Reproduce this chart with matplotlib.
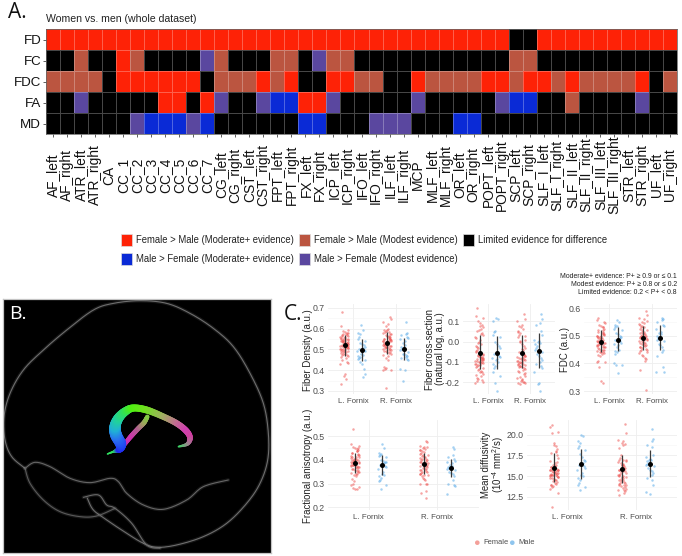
import numpy as np
import matplotlib
matplotlib.use("Agg")
import matplotlib.pyplot as plt
from matplotlib.colors import ListedColormap, to_rgb
from matplotlib.collections import LineCollection
from matplotlib.patches import Rectangle

plt.rcParams['font.family'] = ['Liberation Sans', 'DejaVu Sans']
plt.rcParams['mathtext.default'] = 'regular'

W, H = 682, 556

# ---------- Panel A data ----------
tracts = ["AF_left","AF_right","ATR_left","ATR_right","CA","CC_1","CC_2","CC_3","CC_4","CC_5","CC_6","CC_7",
          "CG_left","CG_right","CST_left","CST_right","FPT_left","FPT_right","FX_left","FX_right","ICP_left","ICP_right",
          "IFO_left","IFO_right","ILF_left","ILF_right","MCP","MLF_left","MLF_right","OR_left","OR_right",
          "POPT_left","POPT_right","SCP_left","SCP_right","SLF_I_left","SLF_I_right","SLF_II_left","SLF_II_right",
          "SLF_III_left","SLF_III_right","STR_left","STR_right","UF_left","UF_right"]
metrics = ["FD", "FC", "FDC", "FA", "MD"]
# R female moderate, r female modest, K limited, B male moderate, b male modest
fd_row  = "RRRRRRRRRRRRRRRRRRRRRRRRRRRRRRRRRKKRRRRRRRRRR"
fc_row  = "KKrKKRrKKKKbrKKKrrKbrrKKKKKKKKKKKrrKKKKKKKKKK"
fdc_row = "rrrrKRRRRRRKrrrRrRKKRRrrKKRrrrrRRrRRrRrrrrRKr"
fa_row  = "KKbKKKKKRRKRbKKbBBRRbKKKKKbKKKKKbBBKKrKKKKbKK"
md_row  = "KKKKKKbBBBbBKKKKKKBBKKKbbbKKKBBKKKKKKKKKKKKKK"
evidence_codes = "RrKBb"
evidence_colors = ["#FE2206", "#BB5540", "#000000", "#0A2AD6", "#5A479F"]
legend_labels = ["Female > Male (Moderate+ evidence)", "Female > Male (Modest evidence)",
                 "Limited evidence for difference", "Male > Female (Moderate+ evidence)",
                 "Male > Female (Modest evidence)"]

# ---------- Panel C data ----------
fd_fl = [.68,.61,.595,.59,.585,.58,.58,.575,.57,.57,.565,.56,.56,.555,.55,.55,.545,.54,.54,.535,.535,.53,.53,.525,.525,.52,.52,.515,.515,.51,.51,.505,.50,.50,.495,.49,.49,.485,.48,.475,.47,.46,.45,.44,.435,.43,.38,.37,.36,.335,
         .575,.565,.555,.548,.543,.538,.532,.528,.522,.518,.512,.508,.503,.498,.493,.488,.482,.478,.472,.465,.545,.535,.525,.515,.505]
fd_ml = [.615,.595,.58,.575,.56,.55,.54,.53,.525,.52,.51,.505,.50,.495,.49,.49,.485,.48,.475,.47,.465,.46,.455,.45,.44,.43,.405,.38,.365]
fd_fr = [.655,.645,.63,.62,.61,.60,.595,.59,.585,.58,.575,.57,.565,.56,.56,.555,.55,.55,.545,.54,.54,.535,.53,.53,.525,.52,.52,.515,.51,.51,.505,.50,.495,.49,.485,.48,.475,.47,.46,.45,.415,.41,.405,.40,.40,.315,
         .592,.582,.572,.562,.552,.548,.542,.538,.532,.528,.522,.518,.512,.508,.502,.498,.492,.488,.482,.545,.535,.525,.515]
fd_mr = [.63,.58,.575,.57,.56,.555,.55,.54,.53,.52,.51,.505,.50,.495,.485,.48,.48,.475,.47,.465,.46,.455,.45,.405,.40,.35]

fc_fl = [.165,.125,.115,.10,.09,.08,.07,.06,.05,.04,.03,.02,.01,0,-.01,-.02,-.03,-.04,-.05,-.06,-.065,-.07,-.075,-.08,-.08,-.085,-.09,-.09,-.095,-.10,-.10,-.105,-.11,-.115,-.12,-.125,-.13,-.14,-.15,-.15,-.16,-.17,-.18,-.19,-.20,-.205,
         .075,.055,.035,.015,-.005,-.025,-.045,-.065,-.072,-.078,-.083,-.088,-.093,-.098,-.103,-.108,-.113,-.118,-.135,-.145,-.165,-.185,-.195]
fc_ml = [.115,.11,.10,.05,.045,.03,.02,.0,-.01,-.02,-.03,-.05,-.06,-.07,-.075,-.08,-.085,-.09,-.10,-.11,-.12,-.13,-.15,-.17,-.205,-.245]
fc_fr = [.135,.11,.10,.08,.07,.06,.05,.04,.03,.02,.01,0,-.01,-.02,-.03,-.04,-.05,-.06,-.07,-.075,-.08,-.085,-.09,-.095,-.10,-.105,-.11,-.115,-.12,-.125,-.13,-.135,-.14,-.15,-.16,-.17,-.18,-.19,-.195,-.20,-.205,-.21,
         .075,.045,.025,.005,-.035,-.065,-.072,-.078,-.083,-.088,-.093,-.098,-.103,-.108,-.112,-.118,-.122,-.128,-.145,-.155,-.175,-.185,-.198,-.203]
fc_mr = [.135,.11,.09,.08,.05,.03,.01,.005,0,-.005,-.01,-.02,-.03,-.04,-.05,-.06,-.07,-.08,-.09,-.10,-.11,-.12,-.13,-.15,-.205,-.21,-.245]

fdc_fl = [.565,.555,.545,.54,.535,.53,.525,.52,.515,.51,.505,.50,.50,.495,.49,.49,.485,.48,.48,.475,.47,.47,.465,.46,.46,.455,.45,.45,.445,.44,.44,.435,.43,.425,.41,.405,.405,.385,.335,.33,
          .548,.532,.522,.512,.502,.498,.492,.488,.482,.478,.472,.468,.462,.458,.452,.448,.442,.438,.505,.495,.485,.475,.465]
fdc_ml = [.555,.55,.54,.535,.53,.525,.52,.51,.505,.50,.495,.49,.485,.48,.475,.47,.465,.46,.45,.445,.44,.435,.40,.395,.395,.365]
fdc_fr = [.59,.575,.565,.56,.55,.545,.54,.535,.53,.525,.52,.515,.51,.505,.50,.50,.495,.49,.485,.48,.475,.47,.465,.46,.455,.45,.445,.44,.43,.425,.42,.415,.41,.375,.305,
          .552,.542,.532,.522,.512,.508,.502,.498,.492,.488,.482,.478,.472,.468,.462,.458,.452,.448,.438,.505,.495,.485,.475]
fdc_mr = [.565,.56,.555,.55,.54,.535,.525,.515,.51,.505,.50,.495,.49,.485,.48,.47,.465,.46,.45,.44,.425,.385,.37,.37]

fa_fl = [.53,.465,.46,.455,.45,.445,.44,.435,.43,.425,.42,.415,.41,.405,.40,.40,.395,.39,.39,.385,.38,.38,.375,.37,.365,.36,.355,.35,.345,.34,.335,.33,.32,.31,.30,.295,.285,.28,.275,.275,
         .448,.438,.428,.422,.412,.408,.402,.398,.392,.388,.382,.378,.372,.368,.362,.358,.352,.348,.342,.41,.40,.39,.38,.37]
fa_ml = [.465,.45,.43,.425,.42,.415,.41,.40,.395,.39,.39,.385,.38,.375,.37,.36,.35,.34,.335,.33,.325,.315,.31,.295,.275]
fa_fr = [.48,.475,.46,.455,.45,.445,.44,.435,.43,.425,.42,.415,.41,.405,.40,.395,.39,.385,.38,.375,.37,.365,.36,.355,.35,.345,.34,.335,.33,.32,.30,.30,.27,.26,.24,
         .452,.442,.432,.422,.412,.408,.402,.398,.392,.388,.382,.378,.372,.368,.362,.358,.352,.348,.342,.338,.325,.315,.30]
fa_mr = [.455,.445,.42,.41,.405,.395,.39,.385,.38,.375,.37,.37,.365,.36,.355,.35,.345,.34,.33,.315,.30,.295,.29,.255]

md_fl = [21.2,20.9,20.3,20.2,19.0,18.6,18.3,18,17.8,17.5,17.2,16.8,16.6,16.4,16.2,16.1,16,15.9,15.8,15.7,15.6,15.5,15.4,15.3,15.2,15.1,15,14.9,14.8,14.6,14.4,14.2,14,13.8,13.7,13.5,13,11.3,
         18.8,17.9,16.7,16.3,16.1,15.9,15.8,15.7,15.6,15.5,15.4,15.3,15.2,15.1,15,14.9,14.8,14.7,14.5,14.3,14.1,13.9,15.6,15.4,15.2]
md_ml = [20,19.8,19.2,19,18.6,18.4,18.2,17.7,17.3,17,16.8,16.6,16.4,16.2,16,15.8,15.4,15.2,15,14.8,14.5,14.2,14,13.7,13.3]
md_fr = [21.3,20.2,19.4,19.2,19,18.8,18.4,17.5,17.2,17,16.8,16.6,16.4,16.2,16,15.9,15.8,15.6,15.4,15.2,15,14.9,14.8,14.6,14.4,14.2,14.1,14,13.8,13.6,13.4,13.2,13,12.8,
         18.9,17.0,16.7,16.5,16.3,16.1,15.7,15.5,15.3,15.1,14.9,14.7,14.5,14.3,14.2,14,13.9,13.7,13.5,13.3,16.9,16.4,15.6,15.0]
md_mr = [20.7,19.5,19.3,18.8,18.5,17.5,17.3,17.1,17,16.9,16.8,16.6,16.5,16.3,16.2,16,15.8,15.6,15.4,15.2,14.8,14.5,13.9,13.1,12.9]

# means and mean-minus / mean-plus SD, order: L female, L male, R female, R male
fd_mean = [.52,.497,.532,.502];      fd_lo = [.47,.445,.48,.45];       fd_hi = [.57,.55,.585,.555]
fc_mean = [-.055,-.056,-.056,-.047]; fc_lo = [-.135,-.135,-.13,-.13];  fc_hi = [.03,.027,.03,.04]
fdc_mean = [.478,.486,.49,.493];     fdc_lo = [.44,.445,.45,.447];     fdc_hi = [.52,.53,.535,.54]
fa_mean = [.387,.377,.383,.366];     fa_lo = [.345,.335,.34,.328];     fa_hi = [.43,.42,.43,.405]
md_mean = [16.0,16.5,15.9,16.5];     md_lo = [14.3,14.7,14.2,14.9];    md_hi = [17.8,18.3,17.6,18.2]
side_labels = ["L. Fornix", "R. Fornix"]

# ---------- Panel B illustration (outline traces) ----------
brain_outer = [(75,625),(35,590),(15,540),(12,470),(30,400),(70,330),(130,270),(200,210),(280,150),(340,130),(420,122),
               (500,130),(570,160),(640,205),(700,260),(750,340),(790,430),(805,520),(803,600),(780,670),(740,730),
               (680,790),(610,830),(530,855),(470,862),(430,850),(380,820),(320,780),(280,750),(262,715)]
brain_temporal = [(75,625),(90,670),(130,720),(180,755),(240,770),(290,768),(345,745)]
brain_fold = [(75,625),(105,607),(150,620),(210,655),(270,668),(330,655),(355,665),(380,700),(430,735),(490,748),
              (560,720),(610,680),(685,660)]
brain_stem = [(250,712),(295,705),(320,735),(345,745),(395,790),(440,855),(480,865)]
fornix_main = [(322,582),(340,575),(358,568),(362,552),(348,525),(345,500),(355,475),(375,455),(400,444),(440,450),
               (490,470),(530,490),(558,512),(570,533),(562,552),(535,560)]
fornix_main_w = [1,1.5,5,8,8.5,8,7,6,5,5,4.5,4.5,4.5,4,2.5,1]
fornix_main_c = ["#30E060","#30E060","#2020F0","#2040F0","#2A70F0","#20B0D8","#20D0A0","#30E060","#50F010","#70E020",
                 "#A0B060","#C07090","#D040B0","#D040A0","#A08090","#30E060"]
fornix_branch = [(372,555),(392,530),(415,505),(432,488),(442,470)]
fornix_branch_w = [3,3.5,3.5,3.5,3]
fornix_branch_c = ["#C030B0","#D030B0","#B06090","#A0A060","#80D040"]


def box(x0, y0, x1, y1):
    return [x0 / W, 1 - y1 / H, (x1 - x0) / W, (y1 - y0) / H]


fig = plt.figure(figsize=(W / 100, H / 100), dpi=100, facecolor="white")

# overlay in pixel units for legend and notes
ov = fig.add_axes([0, 0, 1, 1], zorder=0)
ov.set_xlim(0, W); ov.set_ylim(H, 0); ov.axis("off")

# ---------- Panel A ----------
rows = [fd_row, fc_row, fdc_row, fa_row, md_row]
grid = np.array([[evidence_codes.index(c) for c in r] for r in rows])
ax = fig.add_axes(box(46, 29, 677, 134))
ax.pcolormesh(np.arange(len(tracts) + 1), np.arange(len(metrics) + 1), grid,
              cmap=ListedColormap(evidence_colors), vmin=-.5, vmax=4.5,
              edgecolors=(1, 1, 1, .28), linewidth=0.4)
ax.set_ylim(len(metrics), 0)
ax.set_xlim(0, len(tracts))
ax.set_yticks(np.arange(len(metrics)) + .5, metrics, fontsize=9.6, color="#111111")
ax.set_xticks(np.arange(len(tracts)) + .5, tracts, rotation=90, fontsize=9.9, color="#111111", va="center", ha="center")
ax.tick_params(axis="x", length=2, width=.6, pad=27.5, color="#444444")
ax.tick_params(axis="y", length=2, width=.6, pad=1.5, color="#444444")
for s in ax.spines.values():
    s.set_linewidth(.5); s.set_color("#555555")

ov.text(46, 19.5, "Women vs. men (whole dataset)", fontsize=7.55, color="#222222", va="center", ha="left")
ov.text(8, 12.5, "A.", fontsize=15, family="Open Sans", color="#111111", va="center")
ov.text(284, 315, "C.", fontsize=15, family="Open Sans", color="#111111", va="center")

# legend
leg_pos = [(121, 234), (299, 234), (462.5, 234), (121, 252.5), (299, 252.5)]
for (lx, ly), c, lab in zip(leg_pos, evidence_colors, legend_labels):
    ov.add_patch(Rectangle((lx, ly), 11, 12, fc=c, ec="#dddddd", lw=.5))
    ov.text(lx + 15.5, ly + 6, lab, fontsize=6.85, color="#222222", va="center", ha="left")

# note
for yy, t in zip([276.7, 284.5, 292], ["Moderate+ evidence: P+ ≥ 0.9 or ≤ 0.1", "Modest evidence: P+ ≥ 0.8 or ≤ 0.2",
                                       "Limited evidence: 0.2 < P+ < 0.8"]):
    ov.text(677, yy, t, fontsize=4.95, color="#222222", ha="right", va="center")

# ---------- Panel B ----------
axb = fig.add_axes(box(2.7, 298.7, 270.7, 553.3), facecolor="black", zorder=1)
axb.set_xlim(8, 812); axb.set_ylim(880, 116)
axb.set_xticks([]); axb.set_yticks([])
for s in axb.spines.values():
    s.set_color("#c4c4c4"); s.set_linewidth(.9)


def smooth(pts, n=12):
    p = np.array(pts, float)
    p = np.vstack([p[0], p, p[-1]])
    out = []
    for i in range(1, len(p) - 2):
        for t in np.linspace(0, 1, n, endpoint=False):
            a, b, c, d = p[i - 1], p[i], p[i + 1], p[i + 2]
            out.append(.5 * (2 * b + (c - a) * t + (2 * a - 5 * b + 4 * c - d) * t ** 2 + (3 * b - a - 3 * c + d) * t ** 3))
    out.append(p[-2])
    return np.array(out)


for curve, col in [(brain_outer, "#6e6e6e"), (brain_temporal, "#5a5a5a"), (brain_fold, "#666666"), (brain_stem, "#6a6a6a")]:
    xy = smooth(curve)
    axb.plot(xy[:, 0], xy[:, 1], color="white", lw=2.6, alpha=.09, solid_capstyle="round")
    axb.plot(xy[:, 0], xy[:, 1], color=col, lw=.8, solid_capstyle="round")


def tube(pts, widths, cols):
    n = 10
    xy = smooth(pts, n)
    t = np.linspace(0, len(pts) - 1, len(xy))
    wd = np.interp(t, np.arange(len(pts)), widths)
    rgb = np.array([to_rgb(c) for c in cols])
    cc = np.column_stack([np.interp(t, np.arange(len(pts)), rgb[:, k]) for k in range(3)])
    segs = np.stack([xy[:-1], xy[1:]], axis=1)
    axb.add_collection(LineCollection(segs, linewidths=wd[:-1], colors=cc[:-1], capstyle="round"))


tube(fornix_branch, fornix_branch_w, fornix_branch_c)
tube(fornix_main, fornix_main_w, fornix_main_c)
axb.text(28, 163, "B.", color="white", fontsize=14, family="Open Sans", va="center")

# ---------- Panel C ----------
RED, BLUE = "#EE4A48", "#4BA3E6"
JITTER_PX = [-2.4, 3.1, .6, -3.7, 1.9, -.8, 3.9, -2.9, 1.1, -1.6, 2.6, -3.2, .2, 3.5, -1.2, 2.1, -4.1]


def panel(rect, l_r_px, calib, ticks, ticklabels, groups, mean, lo, hi, dodge_px):
    x0, y0, x1, y1 = rect
    a = fig.add_axes(box(*rect), facecolor="none", zorder=1)
    pxl, pxr = l_r_px
    unit = pxr - pxl
    a.set_xlim((x0 - pxl) / unit, (x1 - pxl) / unit)
    (v1, p1), (v2, p2) = calib
    slope = (v2 - v1) / (p2 - p1)
    a.set_ylim(v1 + (y1 - p1) * slope, v1 + (y0 - p1) * slope)
    a.set_xticks([0, 1], side_labels, fontsize=5.7, color="#4d4d4d")
    a.set_yticks(ticks, ticklabels, fontsize=6.3, color="#4d4d4d")
    mids = (np.array(ticks[:-1]) + np.array(ticks[1:])) / 2
    a.set_yticks(mids, minor=True)
    a.grid(True, which="major", color="#eeeeee", lw=.6)
    a.grid(True, which="minor", axis="y", color="#f5f5f5", lw=.4)
    a.tick_params(which="both", length=0, pad=2)
    a.tick_params(axis="x", pad=3)
    a.set_axisbelow(True)
    for s in a.spines.values():
        s.set_visible(False)
    d = dodge_px / unit
    centers = [-d, d, 1 - d, 1 + d]
    cols = [RED, BLUE, RED, BLUE]
    for k, (c, vals, col) in enumerate(zip(centers, groups, cols)):
        jit = np.array([JITTER_PX[(i * 3 + k * 5) % len(JITTER_PX)] for i in range(len(vals))]) / unit
        a.scatter(c + jit, vals, s=3.2, color=col, alpha=.5, linewidths=0, zorder=2)
        a.vlines(c, lo[k], hi[k], color="#3a3a3a", lw=.9, zorder=3)
        a.scatter([c], [mean[k]], s=13, color="black", linewidths=0, zorder=4)
    return a


panel((328, 303.5, 421, 393.5), (353, 395.6), ((.7, 307.7), (.3, 391)), [.3, .4, .5, .6, .7],
      ["0.3", "0.4", "0.5", "0.6", "0.7"], [fd_fl, fd_ml, fd_fr, fd_mr], fd_mean, fd_lo, fd_hi, 8.5)
panel((462.7, 303.5, 555, 393.5), (488, 530), ((.1, 321.3), (-.2, 382)), [-.2, -.1, 0, .1],
      ["-0.2", "-0.1", "0.0", "0.1"], [fc_fl, fc_ml, fc_fr, fc_mr], fc_mean, fc_lo, fc_hi, 8.5)
panel((584, 303.5, 677, 393.5), (609.3, 651.7), ((.6, 308), (.3, 391)), [.3, .4, .5, .6],
      ["0.3", "0.4", "0.5", "0.6"], [fdc_fl, fdc_ml, fdc_fr, fdc_mr], fdc_mean, fdc_lo, fdc_hi, 8.5)
panel((327.5, 420, 478.5, 510), (368.7, 437.3), ((.5, 436), (.2, 507.3)), [.2, .3, .4, .5],
      ["0.2", "0.3", "0.4", "0.5"], [fa_fl, fa_ml, fa_fr, fa_mr], fa_mean, fa_lo, fa_hi, 13.7)
panel((526.6, 420, 677, 510), (567.7, 636), ((20, 434.7), (12.5, 497)), [12.5, 15, 17.5, 20],
      ["12.5", "15.0", "17.5", "20.0"], [md_fl, md_ml, md_fr, md_mr], md_mean, md_lo, md_hi, 13.7)

title_kw = dict(fontsize=6.95, color="#222222", rotation=90, ha="center", va="center", linespacing=1.0)
ov.text(308, 350, "Fiber Density (a.u.)", **title_kw)
ov.text(435, 349, "Fiber cross-section\n(natural log, a.u.)", **title_kw)
ov.text(565, 350, "FDC (a.u.)", **title_kw)
ov.text(308, 465.5, "Fractional anisotropy (a.u.)", **title_kw)
ov.text(493.5, 465, "Mean diffusivity\n(10$^{-4}$ mm$^{2}$/s)", **title_kw)

# bottom legend
ov.scatter([477.3, 512.3], [542.7, 542.7], s=11, color=["#F4A09A", "#8FC5EE"], linewidths=0)
ov.text(483, 542.7, "Female", fontsize=5.4, color="#4d4d4d", va="center")
ov.text(518, 542.7, "Male", fontsize=5.4, color="#4d4d4d", va="center")

fig.savefig("out.png", dpi=100)
